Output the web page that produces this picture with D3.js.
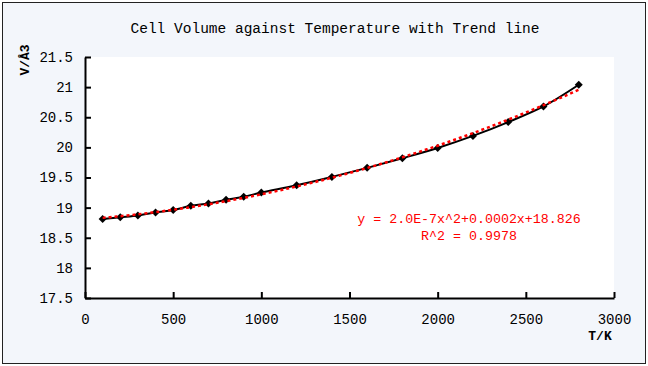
<!DOCTYPE html>
<html>
<head>
<meta charset="utf-8">
<script src="https://cdn.jsdelivr.net/npm/d3@7"></script>
<style>
  html, body { margin: 0; padding: 0; background: #ffffff; }
  svg { display: block; }
  text { font-family: "Liberation Mono", "DejaVu Sans Mono", monospace; }
</style>
</head>
<body>
<svg id="chart" width="648" height="366"></svg>
<script>
// ---- data ----
const temperatures = [100, 200, 300, 400, 500, 600, 700, 800, 900, 1000,
                      1200, 1400, 1600, 1800, 2000, 2200, 2400, 2600, 2800];
const cellVolumes  = [18.81, 18.84, 18.87, 18.92, 18.96, 19.03, 19.07, 19.13, 19.18, 19.25,
                      19.37, 19.51, 19.66, 19.82, 19.99, 20.19, 20.42, 20.68, 21.04];
const xTickValues = [0, 500, 1000, 1500, 2000, 2500, 3000];
const yTickValues = [17.5, 18, 18.5, 19, 19.5, 20, 20.5, 21, 21.5];
const titleText = "Cell Volume against Temperature with Trend line";
const xAxisTitle = "T/K";
const yAxisTitle = "V/Å3";
const trendLabels = ["y = 2.0E-7x^2+0.0002x+18.826", "R^2 = 0.9978"];

// ---- layout ----
const svg = d3.select("#chart");
const W = 648, H = 366;
const plot = { left: 85, right: 614, top: 57, bottom: 298 };

svg.append("rect").attr("x", 0).attr("y", 0).attr("width", W).attr("height", H).attr("fill", "#ffffff");
svg.append("rect").attr("x", 2.5).attr("y", 2.5).attr("width", 643).attr("height", 361)
  .attr("fill", "#f3f6fb").attr("stroke", "#222").attr("stroke-width", 1);
svg.append("rect").attr("x", plot.left).attr("y", plot.top)
  .attr("width", plot.right - plot.left).attr("height", plot.bottom - plot.top).attr("fill", "#ffffff");

const x = d3.scaleLinear().domain([0, 3000]).range([plot.left, plot.right]);
const y = d3.scaleLinear().domain([17.5, 21.5]).range([plot.bottom, plot.top]);

// title
svg.append("text").attr("x", 335).attr("y", 33).attr("text-anchor", "middle")
  .attr("font-size", 14.5).attr("fill", "#000").text(titleText);

// axes
const xAxis = d3.axisBottom(x).tickValues(xTickValues).tickFormat(d3.format("d"))
  .tickSizeInner(-6).tickSizeOuter(0).tickPadding(16);
const gx = svg.append("g").attr("transform", `translate(0,${plot.bottom})`).call(xAxis);
const yAxis = d3.axisLeft(y).tickValues(yTickValues).tickFormat(d => String(d))
  .tickSizeInner(-6).tickSizeOuter(0).tickPadding(12);
const gy = svg.append("g").attr("transform", `translate(${plot.left},0)`).call(yAxis);
[gx, gy].forEach(g => {
  g.select(".domain").attr("stroke", "#000").attr("stroke-width", 2);
  g.selectAll(".tick line").attr("stroke", "#000").attr("stroke-width", 2);
  g.selectAll(".tick text").attr("fill", "#000").attr("font-size", 14)
    .attr("font-family", "\"Liberation Mono\", \"DejaVu Sans Mono\", monospace");
});

// axis titles
svg.append("text").attr("x", 600).attr("y", 340).attr("text-anchor", "middle")
  .attr("font-size", 13).attr("font-weight", "bold").text(xAxisTitle);
svg.append("text").attr("transform", "translate(29,60) rotate(-90)").attr("text-anchor", "middle")
  .attr("font-size", 13).attr("font-weight", "bold").text(yAxisTitle);

// data series: smoothed black line
const pts = temperatures.map((t, i) => [t, cellVolumes[i]]);
const line = d3.line().x(d => x(d[0])).y(d => y(d[1])).curve(d3.curveCatmullRom.alpha(0.5));
svg.append("path").datum(pts).attr("d", line).attr("fill", "none")
  .attr("stroke", "#000").attr("stroke-width", 2);

// markers: black diamonds
svg.selectAll(".mk").data(pts).enter().append("path")
  .attr("d", d3.symbol().type(d3.symbolSquare).size(32))
  .attr("transform", d => `translate(${x(d[0])},${y(d[1])}) rotate(45)`)
  .attr("fill", "#000");

// quadratic least-squares trend line computed from the data
function quadFit(xs, ys) {
  let S = [0,0,0,0,0], T = [0,0,0];
  xs.forEach((xv, i) => {
    for (let k = 0; k < 5; k++) S[k] += Math.pow(xv, k);
    for (let k = 0; k < 3; k++) T[k] += ys[i] * Math.pow(xv, k);
  });
  const A = [[S[0],S[1],S[2],T[0]],[S[1],S[2],S[3],T[1]],[S[2],S[3],S[4],T[2]]];
  for (let i = 0; i < 3; i++) {
    let p = i;
    for (let r = i+1; r < 3; r++) if (Math.abs(A[r][i]) > Math.abs(A[p][i])) p = r;
    [A[i], A[p]] = [A[p], A[i]];
    for (let r = 0; r < 3; r++) if (r !== i) {
      const f = A[r][i] / A[i][i];
      for (let c = i; c < 4; c++) A[r][c] -= f * A[i][c];
    }
  }
  return [A[0][3]/A[0][0], A[1][3]/A[1][1], A[2][3]/A[2][2]];
}
const [c0, c1, c2] = quadFit(temperatures, cellVolumes);
const tMin = d3.min(temperatures), tMax = d3.max(temperatures);
const trendPts = d3.range(tMin, tMax + 1, 20).map(t => [t, c0 + c1*t + c2*t*t]);
svg.append("path").datum(trendPts).attr("d", d3.line().x(d => x(d[0])).y(d => y(d[1])))
  .attr("fill", "none").attr("stroke", "#ff0000").attr("stroke-width", 2.5)
  .attr("stroke-dasharray", "3,3");

// trend equation
const eq = svg.append("text").attr("text-anchor", "middle").attr("fill", "#ff0000").attr("font-size", 13.3);
eq.append("tspan").attr("x", 469).attr("y", 223).text(trendLabels[0]);
eq.append("tspan").attr("x", 469).attr("y", 240).text(trendLabels[1]);
</script>
</body>
</html>
